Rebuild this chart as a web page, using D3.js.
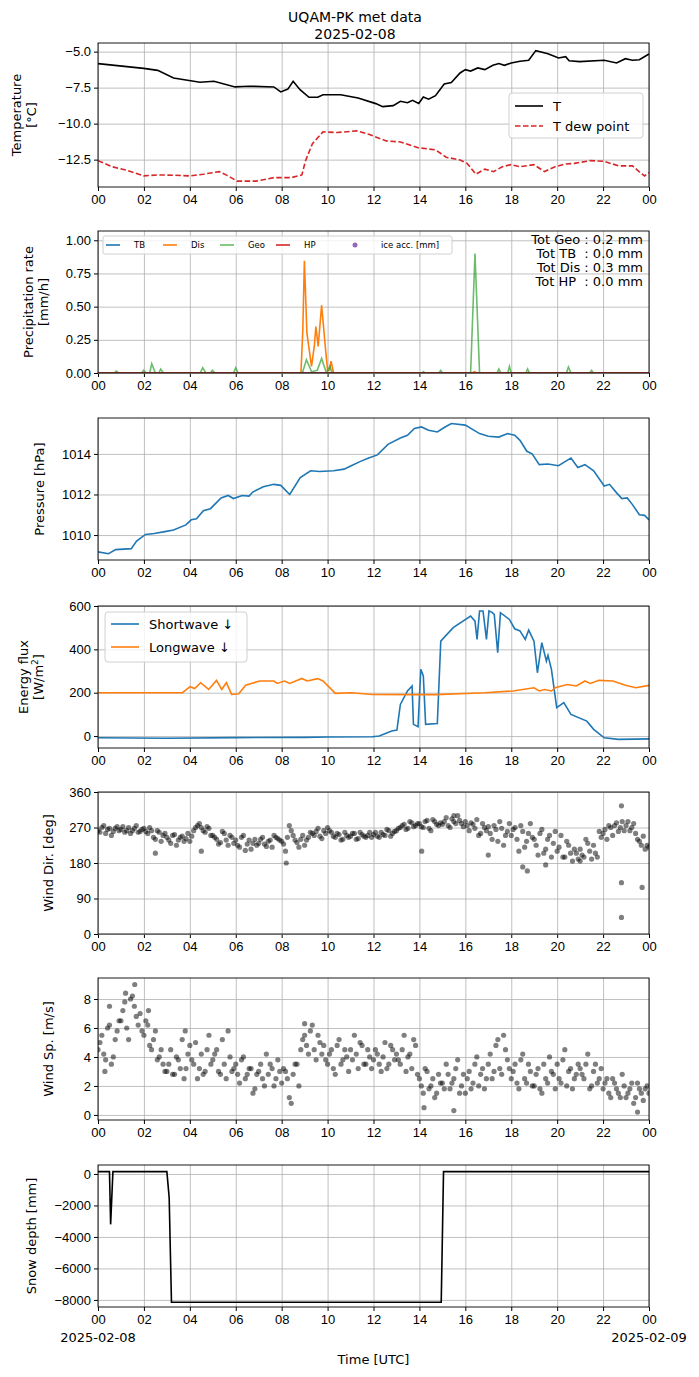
<!DOCTYPE html>
<html><head><meta charset="utf-8">
<script src="https://cdn.jsdelivr.net/npm/d3@7"></script>
<style>body{margin:0;background:#fff}svg{font-family:"DejaVu Sans",sans-serif}</style>
</head><body><svg id="c" width="699" height="1377"></svg>
<script>
const hourTicks=[0,2,4,6,8,10,12,14,16,18,20,22,24];
const hourLabels=["00","02","04","06","08","10","12","14","16","18","20","22","00"];
const tempT=[[0,-5.83],[1.99,-6.16],[2.6,-6.3],[3.29,-6.83],[4.44,-7.13],[5.05,-7.06],[5.97,-7.45],[6.58,-7.4],[7.66,-7.45],[7.96,-7.8],[8.27,-7.6],[8.5,-7.06],[8.8,-7.64],[9.19,-8.17],[9.57,-8.17],[9.8,-7.99],[10.57,-7.99],[11.33,-8.22],[12.1,-8.61],[12.4,-8.82],[12.86,-8.75],[13.17,-8.45],[13.48,-8.55],[13.7,-8.38],[13.97,-8.6],[14.17,-8.15],[14.4,-8.3],[14.7,-8.06],[15.08,-7.25],[15.39,-7.15],[15.77,-6.48],[16.0,-6.25],[16.23,-6.35],[16.54,-6.13],[16.85,-6.25],[17.2,-5.95],[17.46,-5.83],[17.7,-5.95],[18.0,-5.79],[18.38,-5.67],[18.76,-5.6],[19.07,-4.93],[19.6,-5.14],[20.06,-5.44],[20.37,-5.35],[20.52,-5.63],[20.98,-5.69],[22.05,-5.6],[22.59,-5.79],[22.97,-5.49],[23.28,-5.6],[23.58,-5.56],[24.0,-5.16]];
const tempDew=[[0,-12.57],[0.61,-12.99],[1.23,-13.23],[1.99,-13.63],[2.6,-13.56],[3.29,-13.58],[4.01,-13.63],[4.59,-13.51],[5.28,-13.33],[5.67,-13.63],[6.05,-13.99],[6.89,-13.99],[7.66,-13.75],[8.42,-13.75],[8.88,-13.56],[9.04,-12.57],[9.34,-11.39],[9.8,-10.57],[10.41,-10.62],[11.26,-10.5],[11.79,-10.74],[12.56,-11.2],[13.17,-11.27],[13.94,-11.67],[14.7,-11.82],[15.16,-12.33],[15.77,-12.52],[16.08,-12.76],[16.46,-13.51],[16.85,-13.16],[17.23,-13.33],[17.61,-12.99],[17.99,-12.85],[18.38,-12.99],[18.99,-12.85],[19.45,-13.33],[19.91,-12.99],[20.37,-12.8],[20.75,-12.76],[21.44,-12.57],[22.05,-12.62],[22.67,-12.93],[23.28,-12.93],[23.58,-13.35],[23.81,-13.63],[24,-13.4]];
const precTB=[[0,0],[24,0]];
const precHP=[[0,0],[24,0]];
const precDis=[[0,0],[8.84,0],[8.92,0.32],[8.99,0.846],[9.1,0.3],[9.3,0.05],[9.42,0.2],[9.49,0.35],[9.59,0.2],[9.74,0.51],[9.9,0.2],[10.0,0.02],[10.08,0.02],[10.15,0.09],[10.26,0],[16.3,0],[16.4,0.01],[16.5,0],[24,0]];
const precGeo=[[0,0],[0.7,0],[0.8,0.015],[0.9,0],[1.9,0],[1.99,0.02],[2.1,0],[2.25,0],[2.34,0.07],[2.5,0],[2.65,0],[2.73,0.03],[2.85,0],[4.45,0],[4.56,0.04],[4.7,0],[4.9,0],[4.98,0.02],[5.1,0],[5.9,0],[6.0,0.04],[6.1,0],[8.9,0],[9.08,0.1],[9.3,0.01],[9.55,0.02],[9.74,0.11],[9.95,0],[10.1,0.05],[10.2,0],[14.1,0],[14.17,0.01],[14.25,0],[14.85,0],[14.93,0.02],[15.0,0],[16.23,0],[16.42,0.9],[16.62,0],[17.38,0],[17.46,0.03],[17.55,0],[17.85,0],[17.92,0.05],[18.0,0],[18.64,0],[18.71,0.03],[18.8,0],[20.4,0],[20.49,0.045],[20.6,0],[21.42,0],[21.5,0.02],[21.58,0],[24,0]];
const precTotals=["Tot Geo : 0.2 mm","Tot TB  : 0.0 mm","Tot Dis : 0.3 mm","Tot HP  : 0.0 mm"];
const pressure=[[0,1009.17],[0.46,1009.08],[0.77,1009.28],[1.45,1009.33],[1.68,1009.7],[2.07,1010.03],[2.45,1010.08],[2.91,1010.17],[3.29,1010.25],[3.83,1010.5],[4.06,1010.75],[4.29,1010.8],[4.59,1011.2],[4.9,1011.3],[5.36,1011.83],[5.67,1011.95],[5.9,1011.8],[6.28,1011.95],[6.58,1011.92],[6.74,1012.12],[7.2,1012.38],[7.66,1012.5],[7.96,1012.45],[8.35,1012.0],[8.81,1012.83],[9.26,1013.17],[9.65,1013.13],[10.26,1013.17],[10.72,1013.25],[11.03,1013.42],[11.41,1013.62],[11.79,1013.8],[12.17,1013.95],[12.63,1014.47],[13.17,1014.78],[13.48,1014.92],[13.78,1015.25],[14.09,1015.33],[14.4,1015.17],[14.78,1015.08],[15.08,1015.3],[15.39,1015.5],[16.0,1015.42],[16.62,1015.0],[17.0,1014.87],[17.46,1014.83],[17.84,1015.0],[18.15,1014.92],[18.38,1014.67],[18.68,1014.13],[18.91,1014.0],[19.22,1013.47],[19.6,1013.5],[20.06,1013.42],[20.29,1013.58],[20.6,1013.8],[20.9,1013.33],[21.21,1013.47],[21.59,1013.17],[22.05,1012.42],[22.28,1012.5],[22.59,1012.08],[22.82,1011.8],[23.05,1011.83],[23.28,1011.5],[23.58,1011.0],[23.81,1010.97],[24,1010.75]];
const shortwave=[[0,-8],[3,-10],[6,-7],[9,-6],[10,-4],[11.94,-3],[12.25,0],[12.79,23],[13.02,28],[13.17,146],[13.48,208],[13.68,231],[13.74,54],[13.94,43],[14.06,308],[14.17,277],[14.27,54],[14.78,58],[14.93,438],[15.47,500],[16.23,554],[16.42,530],[16.51,446],[16.62,577],[16.77,577],[16.92,446],[17.03,577],[17.15,572],[17.26,561],[17.41,385],[17.53,569],[17.92,538],[18.15,495],[18.38,485],[18.61,446],[18.76,489],[18.99,438],[19.14,292],[19.33,431],[19.53,346],[19.6,372],[19.75,308],[19.98,131],[20.29,154],[20.6,100],[21.29,69],[21.59,31],[22.05,-8],[22.67,-15],[24,-13]];
const longwave=[[0,200],[3.68,200],[4.01,228],[4.21,219],[4.47,246],[4.82,215],[5.16,257],[5.39,215],[5.59,246],[5.82,192],[6.13,195],[6.43,235],[7.04,254],[7.66,254],[7.81,243],[8.12,254],[8.35,243],[8.88,266],[9.11,254],[9.57,265],[9.8,254],[10.34,197],[11.03,200],[11.94,192],[13.78,191],[14.7,191],[16.85,200],[18.07,208],[18.99,223],[19.22,208],[19.45,215],[19.75,208],[19.91,223],[20.44,238],[20.83,231],[21.21,254],[21.44,243],[21.82,257],[22.43,254],[22.97,234],[23.43,223],[24,234]];
// wind samples every 10 min (on the 10-min mark and on the 5-min offset)
const windDir=[262,270,255,268,260,272, 265,258,270,262,275,260, 268,255,262,240,258,250, 245,230,252,238,248,242, 235,262,275,270,258,268, 250,240,232,255,225,245, 238,220,250,228,215,240, 230,245,222,238,250,242, 235,210,275,250,232,240, 225,245,255,260,248,262, 270,258,245,252,240,250, 248,255,242,252,245,258, 252,248,258,250,262,255, 262,270,278,268,282,275, 280,270,288,262,285,275, 278,295,270,285,300,280, 285,262,278,290,255,270, 272,240,265,285,225,260, 250,270,210,260,235,280, 240,200,265,215,250,230, 210,250,195,225,185,205, 215,195,230,190,205,260, 255,240,270,275,260,285, 275,262,280,240,225,215, 220];
const windDir2=[258,275,265,250,268,262, 272,262,255,268,258,265, 260,270,245,262,235,255, 238,250,225,245,235,255, 248,270,280,262,272,250, 245,228,260,238,250,230, 225,245,212,238,230,225, 240,228,235,220,245,238, 228,245,262,238,220,250, 238,258,250,268,242,255, 262,248,255,238,258,245, 255,240,258,248,250,245, 258,245,252,265,248,260, 268,275,265,285,272,280, 272,285,268,290,278,282, 285,275,292,280,288,272, 275,282,268,250,280,262, 255,275,235,268,250,280, 265,240,275,220,255,245, 225,255,205,240,195,260, 220,195,235,205,215,190, 200,240,210,225,195,245, 265,275,250,282,270,262, 285,270,255,235,248,225];
const windDirExtra=[[22.8,42],[22.8,130],[23.7,118],[22.8,325],[18.5,170],[18.7,160],[17.0,200],[8.2,180],[2.5,205],[4.5,210],[14.1,210],[15.5,300],[21.0,185],[19.5,175]];
const windSp=[4.5,5.5,3.8,6.2,4.0,5.8, 6.5,7.8,5.2,8.2,6.8,7.0, 5.5,6.2,4.5,5.8,4.0,3.5, 3.0,4.5,2.8,3.8,5.2,3.2, 4.8,3.5,2.5,4.2,3.0,5.5, 3.8,4.5,2.8,3.5,5.8,3.0, 3.5,2.2,4.0,2.8,3.2,1.8, 3.0,2.5,4.2,3.5,2.0,3.8, 2.2,3.0,1.2,2.8,3.5,4.5, 5.5,4.2,6.2,3.8,5.0,4.8, 3.5,4.5,2.8,5.2,3.8,4.0, 4.5,5.5,3.2,4.8,3.5,4.0, 3.8,4.2,3.0,5.0,3.5,4.5, 4.2,3.5,5.5,4.0,3.2,4.8, 2.5,1.5,3.0,2.0,1.2,2.8, 2.2,3.5,1.8,2.5,3.8,2.0, 1.5,3.0,2.2,4.0,2.8,1.8, 3.5,2.5,4.8,3.2,5.5,3.8, 2.5,3.5,1.8,4.2,2.2,3.0, 2.0,3.2,1.5,2.5,4.0,2.8, 3.5,2.2,4.5,3.0,1.8,2.8, 3.2,2.5,4.2,2.0,3.5,2.5, 1.8,2.5,1.2,2.2,1.5,2.8, 1.2,1.8,0.8,2.2,1.5,1.8, 1.5];
const windSp2=[5.0,4.2,6.0,3.5,5.2,6.5, 7.2,6.0,8.0,7.5,6.2,5.8, 6.5,4.8,5.2,3.8,4.5,3.0, 3.5,2.8,4.0,3.2,2.5,4.2, 3.8,5.0,3.2,2.8,4.5,3.5, 4.2,3.0,5.2,2.5,4.0,3.2, 2.8,3.8,2.5,3.2,1.5,2.8, 3.5,2.0,2.8,3.2,2.5,3.0, 3.2,2.5,0.8,3.5,2.0,5.2, 4.8,5.8,4.5,5.5,4.2,3.8, 4.2,3.2,4.8,3.5,4.5,3.0, 3.8,4.2,5.0,3.5,4.5,3.2, 4.5,3.5,4.0,3.2,4.8,3.8, 3.8,4.5,3.0,4.2,5.2,2.8, 2.0,3.2,1.8,2.5,1.5,2.2, 1.8,2.8,2.2,3.2,1.5,2.8, 2.5,1.8,3.5,2.0,3.2,2.5, 4.2,3.0,5.2,2.8,4.5,3.2, 3.0,2.2,3.8,2.5,3.5,2.0, 2.8,1.8,3.5,2.2,3.0,1.8, 2.5,3.8,2.0,3.2,2.5,3.5, 2.8,3.5,1.8,3.0,2.2,3.2, 2.2,1.5,2.5,1.8,1.2,2.0, 1.5,2.2,1.2,1.8,1.0,2.0];
const windSpExtra=[[1.6,9.0],[0.5,7.5],[1.2,8.4],[3.8,5.8],[9.0,6.3],[14.2,0.5],[15.5,0.3],[23.5,0.2],[0.3,3.0],[2.2,7.2]];
const snow=[[0,150],[0.5,150],[0.55,-3200],[0.65,150],[3.0,150],[3.1,-1500],[3.2,-8150],[14.95,-8150],[15.05,150],[24,150]];
const dateLabels=["2025-02-08","2025-02-09"];

const svg=d3.select("#c");
const L=98,R=649;
const x=d3.scaleLinear().domain([0,24]).range([L,R]);
const FS=13;
function panel(top,bot,domain,ticks,fmt,ylab){
  const y=d3.scaleLinear().domain(domain).range([bot,top]);
  const g=svg.append("g");
  g.append("g").attr("transform",`translate(0,${bot})`).call(d3.axisBottom(x).tickValues(hourTicks).tickFormat((d,i)=>hourLabels[i]).tickSize(-(bot-top)).tickSizeOuter(0))
   .call(a=>{a.select(".domain").remove();a.selectAll("line").attr("stroke","#b0b0b0").attr("stroke-width",0.8);a.selectAll("text").attr("font-size",FS).attr("dy","1.1em").attr("fill","#000");});
  g.append("g").attr("transform",`translate(0,${bot})`).call(d3.axisBottom(x).tickValues(hourTicks).tickFormat("").tickSize(4)).call(a=>{a.select(".domain").remove();});
  g.append("g").attr("transform",`translate(${L},0)`).call(d3.axisLeft(y).tickValues(ticks).tickFormat(fmt).tickSize(-(R-L)).tickSizeOuter(0))
   .call(a=>{a.select(".domain").remove();a.selectAll("line").attr("stroke","#b0b0b0").attr("stroke-width",0.8);a.selectAll("text").attr("font-size",FS).attr("x",-7).attr("fill","#000");});
  g.append("g").attr("transform",`translate(${L},0)`).call(d3.axisLeft(y).tickValues(ticks).tickFormat("").tickSize(4)).call(a=>a.select(".domain").remove());
  const clip="cl"+top;
  svg.append("clipPath").attr("id",clip).append("rect").attr("x",L).attr("y",top).attr("width",R-L).attr("height",bot-top);
  const plot=svg.append("g").attr("clip-path",`url(#${clip})`);
  const frame=()=>svg.append("rect").attr("x",L).attr("y",top).attr("width",R-L).attr("height",bot-top).attr("fill","none").attr("stroke","#000").attr("stroke-width",0.9);
  const lx=ylab.x;
  ylab.lines.forEach((t,i)=>{
    const n=ylab.lines.length; const off=(i-(n-1)/2)*15;
    svg.append("text").attr("transform",`translate(${lx+off},${(top+bot)/2}) rotate(-90)`).attr("text-anchor","middle").attr("font-size",FS).attr("dy","0.35em").html(t);
  });
  return {y,plot,frame,top,bot};
}
const line=(y)=>d3.line().x(d=>x(d[0])).y(d=>y(d[1]));

svg.append("text").attr("x",355).attr("y",22).attr("text-anchor","middle").attr("font-size",14).text("UQAM-PK met data");
svg.append("text").attr("x",355).attr("y",39).attr("text-anchor","middle").attr("font-size",14).text("2025-02-08");

let p=panel(43,187,[-14.4,-4.4],[-12.5,-10,-7.5,-5],d3.format(".1f"),{x:24,lines:["Temperature","[°C]"]});
p.plot.append("path").attr("d",line(p.y)(tempT)).attr("fill","none").attr("stroke","#000").attr("stroke-width",1.6);
p.plot.append("path").attr("d",line(p.y)(tempDew)).attr("fill","none").attr("stroke","#d62728").attr("stroke-width",1.6).attr("stroke-dasharray","5.5,2.5");
p.frame();
{const g=svg.append("g").attr("transform","translate(509,93)");
 g.append("rect").attr("width",134).attr("height",45).attr("rx",3).attr("fill","#fff").attr("fill-opacity",0.8).attr("stroke","#d0d0d0");
 g.append("line").attr("x1",6).attr("x2",34).attr("y1",13).attr("y2",13).attr("stroke","#000").attr("stroke-width",1.6);
 g.append("line").attr("x1",6).attr("x2",34).attr("y1",33).attr("y2",33).attr("stroke","#d62728").attr("stroke-width",1.6).attr("stroke-dasharray","5.5,2.5");
 g.append("text").attr("x",44).attr("y",18).attr("font-size",FS).text("T");
 g.append("text").attr("x",44).attr("y",38).attr("font-size",FS).text("T dew point");}

p=panel(231,373,[0,1.07],[0,0.25,0.5,0.75,1.0],d3.format(".2f"),{x:36,lines:["Precipitation rate","[mm/h]"]});
[[precTB,"#1f77b4"],[precDis,"#ff7f0e"],[precGeo,"#2ca02c"],[precHP,"#d62728"]].forEach(([d,c],i)=>{
  p.plot.append("path").attr("d",line(p.y)(d)).attr("fill","none").attr("stroke",c).attr("stroke-width",1.6).attr("stroke-opacity",i==2?0.7:1);
});
p.frame();
{const g=svg.append("g").attr("transform","translate(103,236)");
 g.append("rect").attr("width",349).attr("height",18).attr("rx",2).attr("fill","#fff").attr("fill-opacity",0.8).attr("stroke","#d0d0d0");
 const items=[["TB","#1f77b4"],["Dis","#ff7f0e"],["Geo","#2ca02c"],["HP","#d62728"]];
 const xs=[3,60,117,173];
 items.forEach(([t,c],i)=>{g.append("line").attr("x1",xs[i]).attr("x2",xs[i]+14).attr("y1",9).attr("y2",9).attr("stroke",c).attr("stroke-width",1.6).attr("stroke-opacity",i==2?0.7:1);
   g.append("text").attr("x",xs[i]+28).attr("y",12).attr("font-size",8.5).text(t);});
 g.append("circle").attr("cx",252).attr("cy",9).attr("r",2.5).attr("fill","#9467bd");
 g.append("text").attr("x",278).attr("y",12).attr("font-size",8.5).text("ice acc. [mm]");}
precTotals.forEach((t,i)=>svg.append("text").attr("x",643).attr("y",244+i*14).attr("text-anchor","end").attr("font-size",FS).style("white-space","pre").text(t));

p=panel(418,560,[1008.77,1015.77],[1010,1012,1014],d3.format("d"),{x:39,lines:["Pressure [hPa]"]});
p.plot.append("path").attr("d",line(p.y)(pressure)).attr("fill","none").attr("stroke","#1f77b4").attr("stroke-width",1.6);
p.frame();

p=panel(606,748,[-55,600],[0,200,400,600],d3.format("d"),{x:31,lines:["Energy flux","[W/m<tspan baseline-shift='super' font-size='9'>2</tspan>]"]});
p.plot.append("path").attr("d",line(p.y)(shortwave)).attr("fill","none").attr("stroke","#1f77b4").attr("stroke-width",1.6);
p.plot.append("path").attr("d",line(p.y)(longwave)).attr("fill","none").attr("stroke","#ff7f0e").attr("stroke-width",1.6);
p.frame();
{const g=svg.append("g").attr("transform","translate(105,612)");
 g.append("rect").attr("width",142).attr("height",50).attr("rx",3).attr("fill","#fff").attr("fill-opacity",0.8).attr("stroke","#d0d0d0");
 g.append("line").attr("x1",6).attr("x2",34).attr("y1",12).attr("y2",12).attr("stroke","#1f77b4").attr("stroke-width",1.6);
 g.append("line").attr("x1",6).attr("x2",34).attr("y1",35).attr("y2",35).attr("stroke","#ff7f0e").attr("stroke-width",1.6);
 g.append("text").attr("x",44).attr("y",17).attr("font-size",FS).text("Shortwave  ↓");
 g.append("text").attr("x",44).attr("y",40).attr("font-size",FS).text("Longwave  ↓");}

p=panel(792,934,[0,360],[0,90,180,270,360],d3.format("d"),{x:48,lines:["Wind Dir. [deg]"]});
const wd=windDir.map((v,i)=>[i/6,v]).concat(windDir2.map((v,i)=>[i/6+1/12,v])).concat(windDirExtra);
p.plot.selectAll("circle").data(wd).join("circle").attr("cx",d=>x(d[0])).attr("cy",d=>p.y(d[1])).attr("r",2.6).attr("fill","#000").attr("fill-opacity",0.5);
p.frame();

p=panel(978,1120,[-0.35,9.45],[0,2,4,6,8],d3.format("d"),{x:48,lines:["Wind Sp. [m/s]"]});
const ws=windSp.map((v,i)=>[i/6,v]).concat(windSp2.map((v,i)=>[i/6+1/12,v])).concat(windSpExtra);
p.plot.selectAll("circle").data(ws).join("circle").attr("cx",d=>x(d[0])).attr("cy",d=>p.y(d[1])).attr("r",2.6).attr("fill","#000").attr("fill-opacity",0.5);
p.frame();

p=panel(1165,1307,[-8450,570],[-8000,-6000,-4000,-2000,0],d3.format("d"),{x:31,lines:["Snow depth [mm]"]});
p.plot.append("path").attr("d",line(p.y)(snow)).attr("fill","none").attr("stroke","#000").attr("stroke-width",1.6);
p.frame();
svg.append("text").attr("x",L).attr("y",1342).attr("text-anchor","middle").attr("font-size",FS).text(dateLabels[0]);
svg.append("text").attr("x",R).attr("y",1342).attr("text-anchor","middle").attr("font-size",FS).text(dateLabels[1]);
svg.append("text").attr("x",(L+R)/2).attr("y",1364).attr("text-anchor","middle").attr("font-size",FS).text("Time [UTC]");
</script></body></html>
